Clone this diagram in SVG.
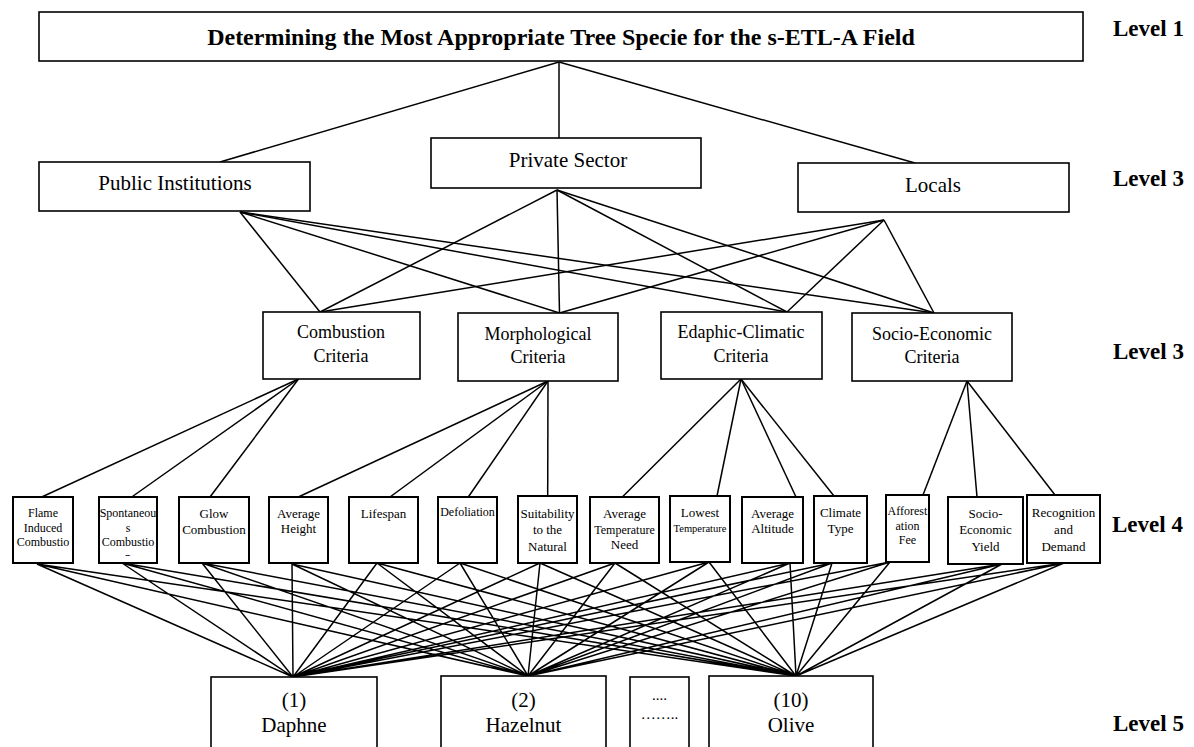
<svg xmlns="http://www.w3.org/2000/svg" width="1194" height="747" viewBox="0 0 1194 747">
<style>
.bx{fill:#fff;stroke:#000;stroke-width:1.6}
.b4{fill:#fff;stroke:#000;stroke-width:2}
.ln{stroke:#000;stroke-width:1.5;fill:none}
text{font-family:"Liberation Serif","Times New Roman",serif;fill:#000;text-anchor:middle}
.lv{font-weight:bold;font-size:23px;text-anchor:start}
.t2{font-size:21px}
.t3{font-size:18px}
.t4{font-size:13px}
.s12{font-size:12px}
.t5{font-size:21px}
</style>
<defs>
<clipPath id="clipSp"><rect x="99" y="497" width="58" height="59"/></clipPath>
</defs>
<rect width="1194" height="747" fill="#fff"/>
<g id="connectors" class="ln">
<line x1="559" y1="62" x2="220" y2="162"/>
<line x1="559" y1="62" x2="559" y2="138"/>
<line x1="559" y1="62" x2="915" y2="163"/>
<line x1="240" y1="212" x2="320" y2="312"/>
<line x1="240" y1="212" x2="559.5" y2="313"/>
<line x1="240" y1="212" x2="787" y2="312"/>
<line x1="240" y1="212" x2="934" y2="313"/>
<line x1="557" y1="190" x2="320" y2="312"/>
<line x1="557" y1="190" x2="559.5" y2="313"/>
<line x1="557" y1="190" x2="787" y2="312"/>
<line x1="557" y1="190" x2="934" y2="313"/>
<line x1="884" y1="220" x2="320" y2="312"/>
<line x1="884" y1="220" x2="559.5" y2="313"/>
<line x1="884" y1="220" x2="787" y2="312"/>
<line x1="884" y1="220" x2="934" y2="313"/>
<line x1="298.5" y1="379" x2="41.7" y2="497"/>
<line x1="298.5" y1="379" x2="131.7" y2="497"/>
<line x1="298.5" y1="379" x2="210" y2="497"/>
<line x1="548" y1="381" x2="298.3" y2="497"/>
<line x1="548" y1="381" x2="390" y2="497"/>
<line x1="548" y1="381" x2="468.3" y2="497"/>
<line x1="548" y1="381" x2="547.7" y2="496"/>
<line x1="741" y1="379" x2="622.3" y2="497"/>
<line x1="741" y1="379" x2="717" y2="496"/>
<line x1="741" y1="379" x2="796" y2="497"/>
<line x1="741" y1="379" x2="834" y2="496"/>
<line x1="967" y1="381" x2="923" y2="495"/>
<line x1="967" y1="381" x2="977" y2="497"/>
<line x1="967" y1="381" x2="1055" y2="495"/>
<path d="M37 564L293 677M37 564L528 676M37 564L796 676
M122 563L293 677M122 563L528 676M122 563L796 676
M202 563L293 677M202 563L528 676M202 563L796 676
M292 564L293 677M292 564L528 676M292 564L796 676
M377 563L293 677M377 563L528 676M377 563L796 676
M460 563L293 677M460 563L528 676M460 563L796 676
M540 563L293 677M540 563L528 676M540 563L796 676
M615 563L293 677M615 563L528 676M615 563L796 676
M709 562L293 677M709 562L528 676M709 562L796 676
M790 563L293 677M790 563L528 676M790 563L796 676
M832 563L293 677M832 563L528 676M832 563L796 676
M890 562L293 677M890 562L528 676M890 562L796 676
M1002 564L293 677M1002 564L528 676M1002 564L796 676
M1064 563L293 677M1064 563L528 676M1064 563L796 676"/>
</g>
<g id="goal"><rect class="bx" x="39" y="12" width="1044" height="49"/><text x="561" y="45" style="font-weight:bold;font-size:24px">Determining the Most Appropriate Tree Specie for the s-ETL-A Field</text></g>
<g id="public"><rect class="bx" x="39" y="162" width="271" height="49"/><text class="t2" x="175" y="190">Public Institutions</text></g>
<g id="private"><rect class="bx" x="431" y="138" width="270" height="50"/><text class="t2" x="568" y="167">Private Sector</text></g>
<g id="locals"><rect class="bx" x="798" y="163" width="271" height="49"/><text class="t2" x="933" y="192">Locals</text></g>
<g id="combustion"><rect class="bx" x="263" y="312" width="157" height="67"/><text class="t3" x="341" y="338">Combustion</text><text class="t3" x="341" y="362">Criteria</text></g>
<g id="morphological"><rect class="bx" x="458" y="313" width="160" height="68"/><text class="t3" x="538" y="340">Morphological</text><text class="t3" x="538" y="363">Criteria</text></g>
<g id="edaphic"><rect class="bx" x="661" y="312" width="161" height="67"/><text class="t3" x="741" y="338">Edaphic-Climatic</text><text class="t3" x="741" y="362">Criteria</text></g>
<g id="socio"><rect class="bx" x="852" y="313" width="160" height="68"/><text class="t3" x="932" y="340">Socio-Economic</text><text class="t3" x="932" y="363">Criteria</text></g>
<g id="flame"><rect class="b4" x="13" y="497" width="60" height="66"/><text class="s12" x="43" y="517">Flame</text><text class="s12" x="43" y="532">Induced</text><text class="s12" x="43" y="546">Combustio</text></g>
<g id="spontaneous"><rect class="b4" x="99" y="497" width="58" height="66"/><text class="s12" x="128" y="517">Spontaneou</text><text class="s12" x="128" y="532">s</text><text class="s12" x="128" y="546">Combustio</text><text class="s12" x="128" y="561" clip-path="url(#clipSp)">n</text></g>
<g id="glow"><rect class="b4" x="179" y="497" width="70" height="66"/><text class="t4" x="214" y="518">Glow</text><text class="t4" x="214" y="534">Combustion</text></g>
<g id="avgheight"><rect class="b4" x="269" y="497" width="59" height="66"/><text class="t4" x="298.5" y="518">Average</text><text class="t4" x="298.5" y="533">Height</text></g>
<g id="lifespan"><rect class="b4" x="349" y="497" width="69" height="66"/><text class="t4" x="383.5" y="518">Lifespan</text></g>
<g id="defoliation"><rect class="b4" x="438" y="497" width="59" height="66"/><text class="s12" x="467.5" y="516">Defoliation</text></g>
<g id="suitability"><rect class="b4" x="518" y="496" width="59" height="67"/><text class="t4" x="547.5" y="518">Suitability</text><text class="t4" x="547.5" y="534">to the</text><text class="t4" x="547.5" y="551">Natural</text></g>
<g id="avgtemp"><rect class="b4" x="590" y="497" width="69" height="66"/><text class="t4" x="624.5" y="518">Average</text><text class="s12" x="624.5" y="534">Temperature</text><text class="t4" x="624.5" y="549">Need</text></g>
<g id="lowesttemp"><rect class="b4" x="670" y="496" width="60" height="66"/><text class="t4" x="700" y="517">Lowest</text><text x="700" y="532" style="font-size:10.5px">Temperature</text></g>
<g id="avgaltitude"><rect class="b4" x="742" y="497" width="61" height="66"/><text class="t4" x="772.5" y="518">Average</text><text class="t4" x="772.5" y="533">Altitude</text></g>
<g id="climate"><rect class="b4" x="814" y="496" width="53" height="67"/><text class="t4" x="840.5" y="517">Climate</text><text class="t4" x="840.5" y="533">Type</text></g>
<g id="afforestation"><rect class="b4" x="886" y="495" width="43" height="67"/><text class="s12" x="907.5" y="515">Afforest</text><text class="s12" x="907.5" y="530">ation</text><text class="s12" x="907.5" y="544">Fee</text></g>
<g id="socioyield"><rect class="b4" x="948" y="497" width="75" height="67"/><text class="t4" x="985.5" y="518">Socio-</text><text class="t4" x="985.5" y="534">Economic</text><text class="t4" x="985.5" y="551">Yield</text></g>
<g id="recognition"><rect class="b4" x="1027" y="495" width="73" height="68"/><text class="t4" x="1063.5" y="517">Recognition</text><text class="t4" x="1063.5" y="534">and</text><text class="t4" x="1063.5" y="551">Demand</text></g>
<g id="daphne"><rect class="bx" x="211" y="677" width="166" height="80"/><text class="t5" x="294" y="707">(1)</text><text class="t5" x="294" y="732">Daphne</text></g>
<g id="hazelnut"><rect class="bx" x="441" y="676" width="165" height="80"/><text class="t5" x="523.5" y="707">(2)</text><text class="t5" x="523.5" y="732">Hazelnut</text></g>
<g id="others"><rect class="bx" x="630" y="677" width="59" height="80"/><text x="659.5" y="700" style="font-size:15px">....</text><text x="659.5" y="719" style="font-size:15px">……..</text></g>
<g id="olive"><rect class="bx" x="709" y="676" width="164" height="80"/><text class="t5" x="791" y="707">(10)</text><text class="t5" x="791" y="732">Olive</text></g>
<g id="levels">
<text class="lv" x="1113" y="36">Level 1</text>
<text class="lv" x="1113" y="186">Level 3</text>
<text class="lv" x="1113" y="359">Level 3</text>
<text class="lv" x="1112" y="532">Level 4</text>
<text class="lv" x="1113" y="731">Level 5</text>
</g>
</svg>
